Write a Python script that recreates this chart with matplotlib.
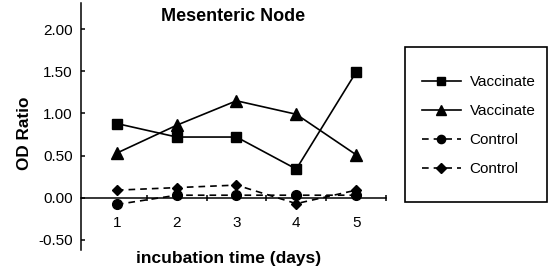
import matplotlib
matplotlib.use("Agg")
import matplotlib.pyplot as plt
from matplotlib.patches import Rectangle

plt.rcParams['font.family'] = ['Liberation Sans', 'DejaVu Sans']

days = [1, 2, 3, 4, 5]
vacc_sq = [0.88, 0.72, 0.72, 0.34, 1.49]
vacc_tri = [0.53, 0.86, 1.15, 0.99, 0.51]
ctrl_oct = [-0.08, 0.03, 0.03, 0.03, 0.03]
ctrl_dia = [0.09, 0.12, 0.15, -0.07, 0.09]
yticks = [-0.5, 0.0, 0.5, 1.0, 1.5, 2.0]
labels = ['Vaccinate', 'Vaccinate', 'Control', 'Control']

fig = plt.figure(figsize=(5.49, 2.70), dpi=100)
ax = fig.add_axes([81/549, 1-250/270, (386-81)/549, (250-3)/270])

lw = 1.2
h1, = ax.plot(days, vacc_sq, color='black', lw=lw, marker='s', ms=7, label=labels[0])
h2, = ax.plot(days, vacc_tri, color='black', lw=lw, marker='^', ms=8, label=labels[1])
h3, = ax.plot(days, ctrl_oct, color='black', lw=lw, ls=(0, (4, 3)), marker='o', ms=7, label=labels[2])
h4, = ax.plot(days, ctrl_dia, color='black', lw=lw, ls=(0, (4, 3)), marker='D', ms=5.5, label=labels[3])

ax.set_xlim(0.4, 5.5)
ax.set_ylim(-0.62, 2.31)
ax.spines['top'].set_visible(False)
ax.spines['right'].set_visible(False)
ax.spines['bottom'].set_position(('data', 0))
for s in ('left', 'bottom'):
    ax.spines[s].set_linewidth(1.1)

ax.set_xticks(days)
ax.set_xticklabels([str(d) for d in days])
ax.set_xticks([1.5, 2.5, 3.5, 4.5, 5.5], minor=True)
ax.tick_params(axis='x', which='major', length=0, pad=13, labelsize=11)
ax.tick_params(axis='x', which='minor', length=5, direction='inout', width=1.1)
ax.set_yticks(yticks)
ax.set_yticklabels([f"{v:.2f}" for v in yticks])
ax.tick_params(axis='y', which='major', length=3, direction='in', width=1.1, pad=6, labelsize=11)

ax.text(0.5, 0.945, 'Mesenteric Node', transform=ax.transAxes, ha='center', va='center',
        fontsize=13, fontweight='bold')
fig.text(25/549, 1-133/270, 'OD Ratio', rotation=90, ha='center', va='center',
         fontsize=12.3, fontweight='bold')
fig.text(229/549, 1-258/270, 'incubation time (days)', ha='center', va='center',
         fontsize=12.5, fontweight='bold')

rect = Rectangle((405/549, 1-202/270), (547-405)/549, (202-47)/270, transform=fig.transFigure,
                 fill=False, edgecolor='black', lw=1.2)
fig.patches.append(rect)
fig.legend(handles=[h1, h2, h3, h4], labels=labels, loc='center',
           bbox_to_anchor=(479/549, 1-125.5/270), frameon=False, fontsize=11,
           handlelength=2.5, handletextpad=0.6, labelspacing=0.98, borderpad=0,
           markerscale=0.85)

fig.savefig('out.png', dpi=100)
